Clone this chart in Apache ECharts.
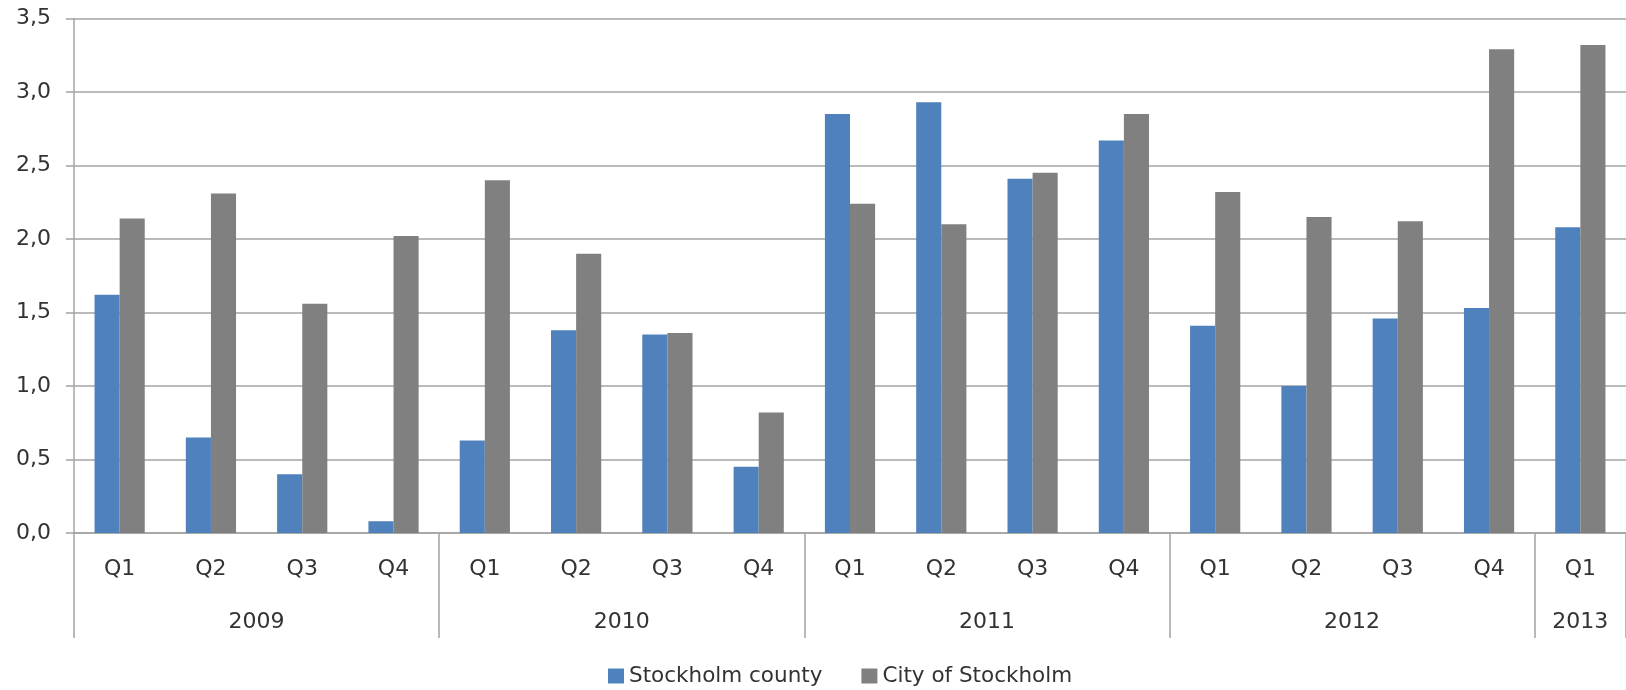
<!DOCTYPE html>
<html>
<head>
<meta charset="utf-8">
<script src="https://cdn.jsdelivr.net/npm/echarts@6/dist/echarts.min.js"></script>
<style>
	html, body { margin: 0; padding: 0; background: #fff; }
	#chart { width: 1626px; height: 690px; }
</style>
</head>
<body>
<div id="chart"></div>
<script>
var quarters = ['Q1', 'Q2', 'Q3', 'Q4', 'Q1', 'Q2', 'Q3', 'Q4', 'Q1', 'Q2', 'Q3', 'Q4', 'Q1', 'Q2', 'Q3', 'Q4', 'Q1'];
var years = ['2009', '2010', '2011', '2012', '2013'];
var quartersInYear = [4, 4, 4, 4, 1];
var yTicks = [0, 0.5, 1, 1.5, 2, 2.5, 3, 3.5];

var county = [1.62, 0.65, 0.40, 0.08, 0.63, 1.38, 1.35, 0.45, 2.85, 2.93, 2.41, 2.67, 1.41, 1.00, 1.46, 1.53, 2.08];
var city = [2.14, 2.31, 1.56, 2.02, 2.40, 1.90, 1.36, 0.82, 2.24, 2.10, 2.45, 2.85, 2.32, 2.15, 2.12, 3.29, 3.32];

var blue = '#4f81bd';
var gray = '#808080';
var lineGray = '#a3a3a3';
var textColor = '#333333';
var font = 'DejaVu Sans';

// year boundaries and year label centres, counted in quarters
var yearEdges = [0];
var yearMids = [];
quartersInYear.forEach(function(n, i) {
	yearMids.push(yearEdges[i] + n / 2);
	yearEdges.push(yearEdges[i] + n);
});

var chart = echarts.init(document.getElementById('chart'));
chart.setOption({
	animation: false,
	grid: {
		left: 74,
		top: 18.5,
		height: 514.5,
		width: 1560
	},
	legend: {
		left: 603,
		top: 660,
		itemWidth: 16,
		itemHeight: 15,
		itemGap: 39,
		icon: 'rect',
		textStyle: { fontFamily: font, fontSize: 21.5, color: textColor },
		data: ['Stockholm county', 'City of Stockholm']
	},
	xAxis: [
		{
			type: 'category',
			data: quarters,
			axisLine: { lineStyle: { color: lineGray, width: 1.5 } },
			axisTick: { interval: 0, length: 52, lineStyle: { color: lineGray, width: 1.5 } },
			axisLabel: { interval: 0, margin: 25, fontFamily: font, fontSize: 22, color: textColor }
		},
		{
			type: 'value',
			min: 0,
			max: quarters.length,
			position: 'bottom',
			axisLine: { show: false },
			splitLine: { show: false },
			axisTick: {
				show: true,
				length: 105,
				customValues: yearEdges,
				lineStyle: { color: lineGray, width: 1.5 }
			},
			axisLabel: {
				margin: 78,
				customValues: yearMids,
				fontFamily: font,
				fontSize: 22,
				color: textColor,
				formatter: function(value) {
					return years[yearMids.indexOf(value)];
				}
			}
		}
	],
	yAxis: {
		type: 'value',
		min: 0,
		max: 3.5,
		interval: 0.5,
		axisLine: { show: true, lineStyle: { color: lineGray, width: 1.5 } },
		axisTick: { show: true, length: 8, lineStyle: { color: lineGray, width: 1.5 } },
		splitLine: { lineStyle: { color: lineGray, width: 1.5 } },
		axisLabel: {
			margin: 23,
			fontFamily: font,
			fontSize: 22,
			color: textColor,
			customValues: yTicks,
			formatter: function(value) {
				return value.toFixed(1).replace('.', ',');
			}
		}
	},
	series: [
		{
			name: 'Stockholm county',
			type: 'bar',
			data: county,
			barGap: '0%',
			barCategoryGap: '45%',
			itemStyle: { color: blue }
		},
		{
			name: 'City of Stockholm',
			type: 'bar',
			data: city,
			itemStyle: { color: gray }
		}
	]
});
</script>
</body>
</html>
